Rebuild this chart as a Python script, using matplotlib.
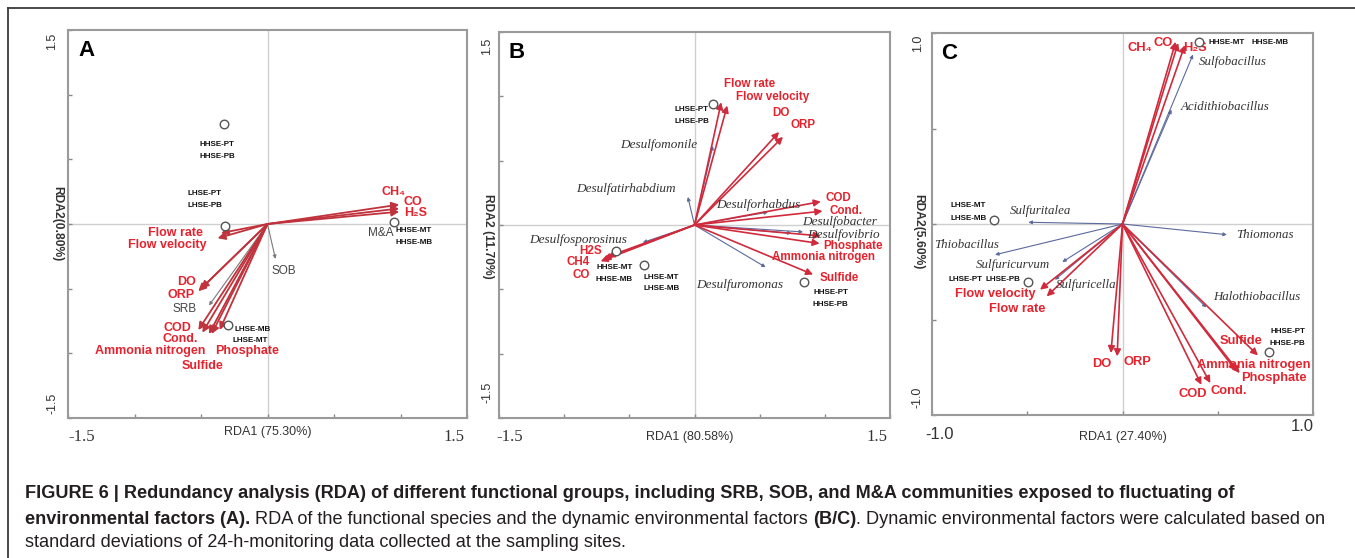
import numpy as np
import matplotlib
matplotlib.use('Agg')
import matplotlib.pyplot as plt
from matplotlib.transforms import blended_transform_factory
from matplotlib.lines import Line2D

# ---------------- DATA ----------------
# Panel A
A_env_names = ['CH\u2084', 'CO', 'H\u2082S', 'Flow rate', 'Flow velocity', 'DO', 'ORP',
               'COD', 'Cond.', 'Ammonia nitrogen', 'Phosphate', 'Sulfide']
A_env_x = [0.99, 0.99, 0.99, -0.35, -0.375, -0.50, -0.52, -0.52, -0.49, -0.44, -0.36, -0.42]
A_env_y = [0.15, 0.12, 0.095, -0.07, -0.11, -0.50, -0.52, -0.82, -0.84, -0.85, -0.82, -0.85]
A_sp_names = ['SRB', 'SOB']
A_sp_x = [-0.44, 0.06]
A_sp_y = [-0.63, -0.27]
A_site_x = [-0.33, -0.32, 0.95, -0.30]
A_site_y = [0.77, -0.015, 0.018, -0.78]
A_site_labels = ['HHSE-PT', 'HHSE-PB', 'LHSE-PT', 'LHSE-PB', 'HHSE-MT', 'HHSE-MB', 'LHSE-MB', 'LHSE-MT']
A_axis_x = 'RDA1 (75.30%)'
A_axis_y = 'RDA2(0.80%)'

# Panel B
B_env_names = ['Flow rate', 'Flow velocity', 'DO', 'ORP', 'COD', 'Cond.', 'Phosphate',
               'Ammonia nitrogen', 'Sulfide', 'H2S', 'CH4', 'CO']
B_env_x = [0.205, 0.251, 0.649, 0.679, 0.969, 0.982, 0.969, 0.96, 0.91, -0.667, -0.70, -0.72]
B_env_y = [0.954, 0.928, 0.723, 0.685, 0.182, 0.108, -0.085, -0.144, -0.385, -0.246, -0.267, -0.282]
B_sp_names = ['Desulfomonile', 'Desulfatirhabdium', 'Desulforhabdus', 'Desulfobacter',
              'Desulfovibrio', 'Desulfosporosinus', 'Desulfuromonas']
B_sp_x = [0.141, -0.051, 0.564, 0.833, 0.744, -0.397, 0.546]
B_sp_y = [0.615, 0.218, 0.10, -0.054, -0.064, -0.136, -0.328]
B_site_x = [0.141, -0.603, -0.385, 0.841]
B_site_y = [0.941, -0.20, -0.308, -0.444]
B_site_labels = ['LHSE-PT', 'LHSE-PB', 'HHSE-MT', 'HHSE-MB', 'LHSE-MT', 'LHSE-MB', 'HHSE-PT', 'HHSE-PB']
B_axis_x = 'RDA1 (80.58%)'
B_axis_y = 'RDA2 (11.70%)'

# Panel C
C_env_names = ['CH\u2084', 'CO', 'H\u2082S', 'Flow velocity', 'Flow rate', 'DO', 'ORP',
               'COD', 'Cond.', 'Ammonia nitrogen', 'Phosphate', 'Sulfide']
C_env_x = [0.279, 0.292, 0.327, -0.433, -0.398, -0.061, -0.028, 0.414, 0.461, 0.597, 0.615, 0.711]
C_env_y = [0.954, 0.948, 0.936, -0.344, -0.379, -0.676, -0.693, -0.842, -0.833, -0.769, -0.781, -0.688]
C_sp_names = ['Sulfobacillus', 'Acidithiobacillus', 'Sulfuritalea', 'Thiobacillus',
              'Sulfuricurvum', 'Sulfuricella', 'Thiomonas', 'Halothiobacillus']
C_sp_x = [0.37, 0.257, -0.494, -0.669, -0.316, -0.355, 0.548, 0.44]
C_sp_y = [0.887, 0.599, 0.009, -0.161, -0.199, -0.292, -0.056, -0.437]
C_site_x = [0.40, -0.672, -0.498, 0.767]
C_site_y = [0.954, 0.023, -0.306, -0.672]
C_site_labels = ['HHSE-MT', 'HHSE-MB', 'LHSE-MT', 'LHSE-MB', 'LHSE-PT', 'LHSE-PB', 'HHSE-PT', 'HHSE-PB']
C_axis_x = 'RDA1 (27.40%)'
C_axis_y = 'RDA2(5.60%)'

# ---------------- LABEL LAYOUT (positions of text, data units) ----------------
A_env_lab = [(0.95, 0.25), (1.095, 0.17), (1.11, 0.087), (-0.69, -0.067), (-0.75, -0.16),
             (-0.61, -0.45), (-0.65, -0.55), (-0.675, -0.805), (-0.66, -0.89), (-0.88, -0.98),
             (-0.15, -0.98), (-0.49, -1.10)]
A_sp_lab = [(-0.62, -0.656), (0.12, -0.36)]
A_site_lab = [(-0.38, 0.615), (-0.38, 0.525), (-0.47, 0.236), (-0.47, 0.146),
              (1.10, -0.054), (1.10, -0.144), (-0.11, -0.815), (-0.13, -0.90)]
A_extra = ('M&A', (0.85, -0.072))

B_env_lab = [(0.423, 1.095), (0.603, 0.995), (0.667, 0.872), (0.833, 0.774), (1.103, 0.21),
             (1.162, 0.108), (1.218, -0.167), (0.992, -0.251), (1.11, -0.41),
             (-0.80, -0.205), (-0.895, -0.29), (-0.867, -0.385)]
B_sp_lab = [(-0.274, 0.62), (-0.526, 0.282), (0.487, 0.159), (1.11, 0.023), (1.141, -0.077),
            (-0.892, -0.115), (0.346, -0.469)]
B_site_lab = [(-0.02, 0.897), (-0.02, 0.808), (-0.615, -0.328), (-0.615, -0.423),
              (-0.256, -0.408), (-0.256, -0.495), (1.044, -0.528), (1.044, -0.618)]

C_env_lab = [(0.091, 0.922), (0.213, 0.948), (0.379, 0.919), (-0.666, -0.365), (-0.555, -0.444),
             (-0.11, -0.734), (0.077, -0.72), (0.37, -0.891), (0.557, -0.873), (0.69, -0.737),
             (0.793, -0.807), (0.624, -0.611)]
C_sp_lab = [(0.58, 0.849), (0.536, 0.611), (-0.428, 0.066), (-0.817, -0.112), (-0.573, -0.213),
            (-0.189, -0.321), (0.746, -0.059), (0.706, -0.384)]
C_site_lab = [(0.547, 0.948), (0.776, 0.948), (-0.809, 0.096), (-0.809, 0.031),
              (-0.826, -0.292), (-0.625, -0.292), (0.868, -0.562), (0.868, -0.627)]

# ---------------- STYLE ----------------
SANS = ['Liberation Sans', 'DejaVu Sans']
SERIF = ['Liberation Serif', 'DejaVu Serif']
NARROW = ['Liberation Sans Narrow', 'Liberation Sans', 'DejaVu Sans']
RED_TXT = '#e4232e'
RED_ARR = '#cf2b3c'
SP_COL = '#5c6a9c'
plt.rcParams['font.family'] = SANS

W, H = 1355, 558
fig = plt.figure(figsize=(W / 100, H / 100), dpi=100)


def add_ax(l, t, r, b):
    return fig.add_axes([l / W, 1 - b / H, (r - l) / W, (b - t) / H])


def style(ax, lim, step):
    ax.set_xlim(-lim, lim)
    ax.set_ylim(-lim, lim)
    ticks = np.arange(-lim, lim + 1e-9, step)
    ax.set_xticks(ticks)
    ax.set_yticks(ticks)
    ax.tick_params(direction='in', length=3, width=1, color='#8a8a8a',
                   labelbottom=False, labelleft=False)
    for s in ax.spines.values():
        s.set_color('#9a9a9a')
        s.set_linewidth(1.5)
    ax.axhline(0, color='#cfcfcf', lw=1, zorder=0)
    ax.axvline(0, color='#cfcfcf', lw=1, zorder=0)


def arrow(ax, x, y, color, lw, ms, z=3):
    ax.annotate('', xy=(x, y), xytext=(0, 0), zorder=z,
                arrowprops=dict(arrowstyle='-|>', color=color, lw=lw,
                                mutation_scale=ms, shrinkA=0, shrinkB=0))


def axis_texts(ax, letter, xlab, ylab, xt, yt, xlab_pos, ylab_pos, tick_family, tick_y, ytick_x):
    ax.text(0.025, 0.975, letter, transform=ax.transAxes, fontsize=16, fontweight='bold',
            ha='left', va='top', color='black')
    tb = blended_transform_factory(ax.transData, ax.transAxes)
    for (val, xx, yy) in xt:
        ax.text(xx, yy, val, transform=tb, ha='center', va='center', fontsize=12,
                family=tick_family, color='#333333', clip_on=False)
    ax.text(xlab_pos[0], xlab_pos[1], xlab, transform=tb, ha='center', va='center',
            fontsize=9, family=NARROW, color='#333333', clip_on=False)
    tl = blended_transform_factory(ax.transAxes, ax.transData)
    for (val, yy) in yt:
        ax.text(ytick_x, yy, val, transform=tl, ha='center', va='center', fontsize=9,
                rotation=90, color='#333333', clip_on=False)
    ax.text(ylab_pos[0], ylab_pos[1], ylab, transform=tl, ha='center', va='center',
            fontsize=8.7, fontweight='bold', rotation=-90, color='#333333', clip_on=False)


# ---------------- PANEL A ----------------
axA = add_ax(68, 30, 467, 418)
style(axA, 1.5, 0.5)
for x, y in zip(A_sp_x, A_sp_y):
    arrow(axA, x, y, '#7a7a7a', 0.8, 5)
for x, y in zip(A_env_x, A_env_y):
    arrow(axA, x, y, '#c0323c', 1.3, 11)
axA.scatter(A_site_x, A_site_y, s=38, facecolors='white', edgecolors='#555555', lw=1, zorder=4)
for n, (x, y) in zip(A_env_names, A_env_lab):
    axA.text(x, y, n, color=RED_TXT, fontsize=9, fontweight='bold', ha='center', va='center',
             family=SANS)
for n, (x, y) in zip(A_sp_names, A_sp_lab):
    axA.text(x, y, n, color='#444444', fontsize=8.5, ha='center', va='center')
axA.text(A_extra[1][0], A_extra[1][1], A_extra[0], color='#444444', fontsize=8.5,
         ha='center', va='center')
for n, (x, y) in zip(A_site_labels, A_site_lab):
    axA.text(x, y, n, color='#111111', fontsize=5.8, fontweight='bold', ha='center', va='center')
axis_texts(axA, 'A', A_axis_x, A_axis_y,
           [('-1.5', -1.40, -0.049), ('1.5', 1.40, -0.049)], [('1.5', 1.415), ('-1.5', -1.39)],
           (0.0, -0.036), (-0.028, 0.0), SERIF, -0.049, -0.04)

# ---------------- PANEL B ----------------
axB = add_ax(499, 32, 890, 418)
style(axB, 1.5, 0.5)
for x, y in zip(B_sp_x, B_sp_y):
    arrow(axB, x, y, SP_COL, 0.8, 5)
for x, y in zip(B_env_x, B_env_y):
    arrow(axB, x, y, RED_ARR, 1.2, 10)
axB.scatter(B_site_x, B_site_y, s=38, facecolors='white', edgecolors='#555555', lw=1, zorder=4)
for n, (x, y) in zip(B_env_names, B_env_lab):
    axB.text(x, y, n, color=RED_TXT, fontsize=8.4, fontweight='bold', ha='center', va='center')
for n, (x, y) in zip(B_sp_names, B_sp_lab):
    axB.text(x, y, n, color='#333333', fontsize=9.5, style='italic', family=SERIF,
             ha='center', va='center')
for n, (x, y) in zip(B_site_labels, B_site_lab):
    axB.text(x, y, n, color='#111111', fontsize=5.8, fontweight='bold', ha='center', va='center')
axis_texts(axB, 'B', B_axis_x, B_axis_y,
           [('-1.5', -1.42, -0.049), ('1.5', 1.40, -0.049)], [('1.5', 1.39), ('-1.5', -1.30)],
           (-0.04, -0.049), (-0.028, -0.09), SERIF, -0.049, -0.03)

# ---------------- PANEL C ----------------
axC = add_ax(932, 33, 1313, 415)
style(axC, 1.0, 0.5)
for x, y in zip(C_sp_x, C_sp_y):
    arrow(axC, x, y, SP_COL, 0.8, 5)
for x, y in zip(C_env_x, C_env_y):
    arrow(axC, x, y, RED_ARR, 1.2, 10)
axC.scatter(C_site_x, C_site_y, s=38, facecolors='white', edgecolors='#555555', lw=1, zorder=4)
for n, (x, y) in zip(C_env_names, C_env_lab):
    axC.text(x, y, n, color=RED_TXT, fontsize=9.3, fontweight='bold', ha='center', va='center')
for n, (x, y) in zip(C_sp_names, C_sp_lab):
    axC.text(x, y, n, color='#333333', fontsize=9.3, style='italic', family=SERIF,
             ha='center', va='center')
for n, (x, y) in zip(C_site_labels, C_site_lab):
    axC.text(x, y, n, color='#111111', fontsize=5.8, fontweight='bold', ha='center', va='center')
axis_texts(axC, 'C', C_axis_x, C_axis_y,
           [('-1.0', -0.96, -0.05), ('1.0', 0.945, -0.031)], [('1.0', 0.945), ('-1.0', -0.91)],
           (0.0, -0.057), (-0.037, -0.04), SANS, -0.05, -0.037)

# ---------------- FRAME + CAPTION ----------------
fig.add_artist(Line2D([8 / W, 8 / W], [1 - 8 / H, 0], transform=fig.transFigure,
                      color='#3a3a3a', lw=1.3))
fig.add_artist(Line2D([8 / W, 1], [1 - 8 / H, 1 - 8 / H], transform=fig.transFigure,
                      color='#3a3a3a', lw=1.3))

cap = fig.add_axes([0, 0, 1, 1])
cap.axis('off')
cap.set_xlim(0, 1)
cap.set_ylim(0, 1)
CAP_FS = 13.1
CAP_COL = '#231f20'


def rich_line(segments, x_px, y_px):
    prev = None
    for txt, wt in segments:
        if prev is None:
            prev = cap.text(x_px / W, 1 - y_px / H, txt, fontsize=CAP_FS, fontweight=wt,
                            color=CAP_COL, ha='left', va='bottom')
        else:
            prev = cap.annotate(txt, xy=(1, 0), xycoords=prev, fontsize=CAP_FS, fontweight=wt,
                                color=CAP_COL, ha='left', va='bottom')


rich_line([('FIGURE 6 | Redundancy analysis (RDA) of different functional groups, including SRB, '
            'SOB, and M&A communities exposed to fluctuating of', 'bold')], 25, 502)
rich_line([('environmental factors (A).', 'bold'),
           (' RDA of the functional species and the dynamic environmental factors ', 'normal'),
           ('(B/C)', 'bold'),
           ('. Dynamic environmental factors were calculated based on', 'normal')], 25, 528)
rich_line([('standard deviations of 24-h-monitoring data collected at the sampling sites.',
            'normal')], 25, 551)

fig.savefig('out.png', dpi=100)
